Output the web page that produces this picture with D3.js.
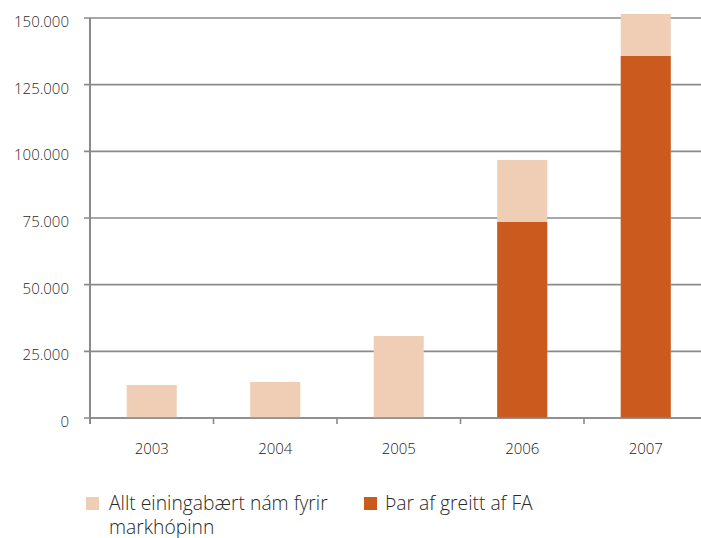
<!DOCTYPE html>
<html>
<head>
<meta charset="utf-8">
<script src="https://cdn.jsdelivr.net/npm/d3@7"></script>
<style>
  html, body { margin: 0; padding: 0; background: #fff; }
  svg { display: block; font-family: "Open Sans", sans-serif; font-weight: 300; }
</style>
</head>
<body>
<svg id="chart" width="701" height="538"></svg>
<script>
const years = ["2003", "2004", "2005", "2006", "2007"];
const totalValues = [12400, 13500, 30750, 96750, 151500];
const faValues = [0, 0, 0, 73500, 135750];
const yTicks = [0, 25000, 50000, 75000, 100000, 125000, 150000];
const seriesNames = ["Allt einingabært nám fyrir markhópinn", "Þar af greitt af FA"];
const seriesColors = ["#f0cdb5", "#cb5a1e"];

const svg = d3.select("#chart");
const x0 = 90, x1 = 707.5, yTop = 18, yBottom = 418;

const x = d3.scaleBand().domain(years).range([x0, x1])
  .paddingInner(0.595).paddingOuter(0.2975);
const y = d3.scaleLinear().domain([0, 150000]).range([yBottom, yTop]);

const fmt = v => d3.format(",")(v).replace(/,/g, ".");

// gridlines
svg.append("g").selectAll("line").data(yTicks).join("line")
  .attr("x1", x0 - 6).attr("x2", 701)
  .attr("y1", d => y(d)).attr("y2", d => y(d))
  .attr("stroke", "#8a8a8a").attr("stroke-width", 1.6);

// y labels
svg.append("g").selectAll("text").data(yTicks).join("text")
  .attr("x", 69).attr("y", d => y(d) + 9)
  .attr("text-anchor", "end").attr("font-size", 15).attr("fill", "#2a2a2a")
  .text(d => fmt(d));

// bars
const bars = svg.append("g");
bars.selectAll("rect.total").data(years).join("rect")
  .attr("class", "total")
  .attr("x", d => x(d)).attr("width", x.bandwidth())
  .attr("y", (d, i) => y(totalValues[i]))
  .attr("height", (d, i) => y(0) - y(totalValues[i]))
  .attr("fill", seriesColors[0]);
bars.selectAll("rect.fa").data(years).join("rect")
  .attr("class", "fa")
  .attr("x", d => x(d)).attr("width", x.bandwidth())
  .attr("y", (d, i) => y(faValues[i]))
  .attr("height", (d, i) => y(0) - y(faValues[i]))
  .attr("fill", seriesColors[1]);

// y axis line
svg.append("line").attr("x1", x0).attr("x2", x0)
  .attr("y1", yTop).attr("y2", yBottom + 6)
  .attr("stroke", "#8a8a8a").attr("stroke-width", 2);

// x axis line redrawn on top
svg.append("line").attr("x1", x0).attr("x2", 701)
  .attr("y1", yBottom).attr("y2", yBottom)
  .attr("stroke", "#8a8a8a").attr("stroke-width", 1.6);

// category ticks between bands
const step = x.step();
const boundaries = years.slice(1).map(d => x(d) - (step - x.bandwidth()) / 2);
svg.append("g").selectAll("line").data(boundaries).join("line")
  .attr("x1", d => d).attr("x2", d => d)
  .attr("y1", yBottom).attr("y2", yBottom + 6)
  .attr("stroke", "#8a8a8a").attr("stroke-width", 1.6);

// x labels
svg.append("g").selectAll("text").data(years).join("text")
  .attr("x", d => x(d) + x.bandwidth() / 2).attr("y", 454)
  .attr("text-anchor", "middle").attr("font-size", 15).attr("fill", "#222")
  .text(d => d);

// legend
const legend = svg.append("g");
legend.append("rect").attr("x", 86).attr("y", 497).attr("width", 13).attr("height", 13)
  .attr("fill", seriesColors[0]);
const t1 = legend.append("text").attr("x", 109).attr("y", 510)
  .attr("font-size", 19.3).attr("fill", "#2a2a2a");
t1.append("tspan").attr("x", 109).text("Allt einingabært nám fyrir");
t1.append("tspan").attr("x", 109).attr("dy", 24).text("markhópinn");
legend.append("rect").attr("x", 364).attr("y", 497).attr("width", 13).attr("height", 13)
  .attr("fill", seriesColors[1]);
legend.append("text").attr("x", 385).attr("y", 510)
  .attr("font-size", 19.3).attr("fill", "#2a2a2a").text(seriesNames[1]);
</script>
</body>
</html>
